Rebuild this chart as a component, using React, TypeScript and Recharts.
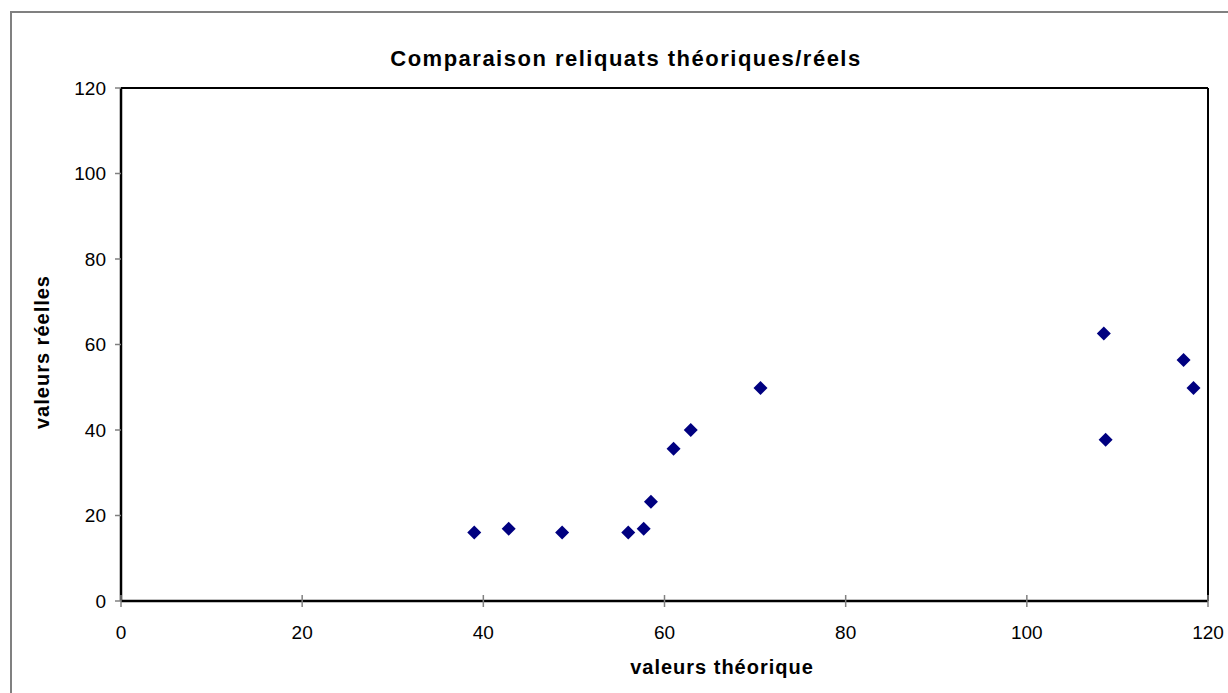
import { ScatterChart, Scatter, XAxis, YAxis, ReferenceLine } from "recharts";

const theoretical = [39.0, 42.8, 48.7, 56.0, 57.7, 58.5, 61.0, 62.9, 70.6, 108.5, 108.7, 117.3, 118.4];
const actual = [16.0, 16.9, 16.0, 16.0, 16.9, 23.2, 35.6, 40.0, 49.8, 62.6, 37.7, 56.4, 49.8];
const xTicks = [0, 20, 40, 60, 80, 100, 120];
const yTicks = [0, 20, 40, 60, 80, 100, 120];

const points = theoretical.map((t, i) => ({ x: t, y: actual[i] }));

const FONT = "'Liberation Sans', Arial, sans-serif";

// Excel style diamond marker
const Diamond = (props: any) => {
    const { cx, cy } = props;
    const r = 7;
    return (
        <polygon
            points={`${cx},${cy - r} ${cx + r},${cy} ${cx},${cy + r} ${cx - r},${cy}`}
            fill="#000080"
        />
    );
};

const XTick = (props: any) => {
    const { x, y, payload } = props;
    return (
        <g>
            <line x1={x} x2={x} y1={y - 6} y2={y + 6} stroke="#808080" strokeWidth={1.5} />
            <text x={x} y={y + 31} textAnchor="middle" dominantBaseline="central"
                fontFamily={FONT} fontSize={19} fill="#000">
                {payload.value}
            </text>
        </g>
    );
};

const YTick = (props: any) => {
    const { x, y, payload } = props;
    return (
        <g>
            <line x1={x - 6} x2={x} y1={y} y2={y} stroke="#808080" strokeWidth={1.5} />
            <text x={x - 15} y={y} textAnchor="end" dominantBaseline="central"
                fontFamily={FONT} fontSize={19} fill="#000">
                {payload.value}
            </text>
        </g>
    );
};

export default function App() {
    return (
        <div style={{ position: "absolute", left: 0, top: 0, width: 1228, height: 693, overflow: "hidden", background: "#fff" }}>
            {/* outer chart frame, cut off at right and bottom */}
            <div style={{ position: "absolute", left: 10, top: 11, width: 1240, height: 700, border: "2px solid #808080", boxSizing: "border-box" }} />

            <div style={{ position: "absolute", left: 0, top: 0 }}>
                <ScatterChart
                    width={1228}
                    height={693}
                    margin={{ top: 88, right: 20, bottom: 32, left: 61 }}
                >
                    <text x={626} y={58} textAnchor="middle" dominantBaseline="central"
                        fontFamily={FONT} fontSize={22} fontWeight="bold" letterSpacing={1.5} fill="#000">
                        Comparaison reliquats théoriques/réels
                    </text>

                    <XAxis
                        type="number"
                        dataKey="x"
                        domain={[0, 120]}
                        ticks={xTicks}
                        height={60}
                        tickSize={0}
                        tickMargin={0}
                        tickLine={false}
                        axisLine={{ stroke: "#000", strokeWidth: 2.5 }}
                        tick={<XTick />}
                        interval={0}
                    />
                    <YAxis
                        type="number"
                        dataKey="y"
                        domain={[0, 120]}
                        ticks={yTicks}
                        width={60}
                        tickSize={0}
                        tickMargin={0}
                        tickLine={false}
                        axisLine={{ stroke: "#000", strokeWidth: 2.5 }}
                        tick={<YTick />}
                        interval={0}
                    />

                    <ReferenceLine y={120} stroke="#000" strokeWidth={2} />
                    <ReferenceLine x={120} stroke="#000" strokeWidth={2} />

                    <Scatter data={points} shape={<Diamond />} isAnimationActive={false} />

                    <text x={722} y={667} textAnchor="middle" dominantBaseline="central"
                        fontFamily={FONT} fontSize={20} fontWeight="bold" letterSpacing={1} fill="#000">
                        valeurs théorique
                    </text>
                    <text x={42} y={352} textAnchor="middle" dominantBaseline="central"
                        transform="rotate(-90, 42, 352)"
                        fontFamily={FONT} fontSize={20} fontWeight="bold" letterSpacing={1} fill="#000">
                        valeurs réelles
                    </text>
                </ScatterChart>
            </div>
        </div>
    );
}
